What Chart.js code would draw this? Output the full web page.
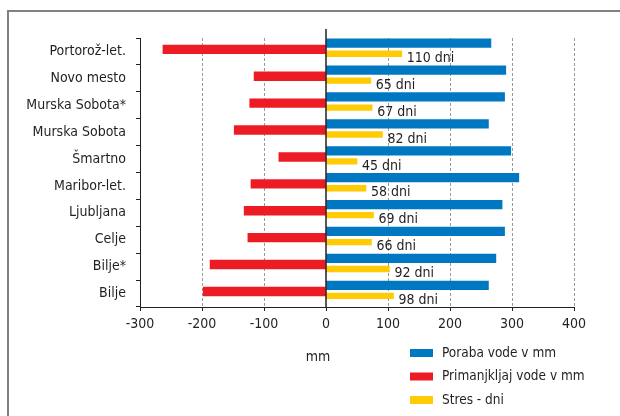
<!DOCTYPE html>
<html>
<head>
<meta charset="utf-8">
<script src="https://cdn.jsdelivr.net/npm/chart.js@4/dist/chart.umd.min.js"></script>
<style>
  html, body { margin: 0; padding: 0; background: #fff; }
  canvas { display: block; }
</style>
</head>
<body>
<canvas id="graf" width="620" height="416"></canvas>
<script>
// Meteorološke postaje (od zgoraj navzdol)
const postaje = ['Portorož-let.', 'Novo mesto', 'Murska Sobota*', 'Murska Sobota', 'Šmartno',
                 'Maribor-let.', 'Ljubljana', 'Celje', 'Bilje*', 'Bilje'];
// Poraba vode v mm
const porabaVode = [266, 290, 288, 262, 298, 311, 284, 288, 274, 262];
// Primanjkljaj vode v mm
const primanjkljajVode = [-263, -116, -123, -148, -76, -121, -132, -126, -187, -198];
// Število dni s stresom
const stresDni = [110, 65, 67, 82, 45, 58, 69, 66, 92, 98];
// Oznake osi x (mm)
const oznakeX = [-300, -200, -100, 0, 100, 200, 300, 400];
const imenaSerij = ['Poraba vode v mm', 'Primanjkljaj vode v mm', 'Stres - dni'];
const enotaOsi = 'mm';
const enotaStres = 'dni';

const MODRA = '#0077c1';
const RDECA = '#ed1c24';
const RUMENA = '#ffcb05';
const BESEDILO = '#231f20';
const MREZA = '#999999';
const PISAVA = "'DejaVu Sans Condensed', 'Liberation Sans', sans-serif";
const VELIKOST = 14;
const VELIKOST_LEGENDE = 13.5;

// Kategorijska os, pri kateri so stolpci niza zamaknjeni znotraj pasu postaje
// (zamik je delež višine pasu; negativen pomeni navzgor).
function zamaknjenaOs(id, zamik) {
  class ZamaknjenaOs extends Chart.CategoryScale {
    getPixelForValue(value, index) {
      const pas = Math.abs(super.getPixelForValue(1) - super.getPixelForValue(0));
      return super.getPixelForValue(value, index) + zamik * pas;
    }
  }
  ZamaknjenaOs.id = id;
  ZamaknjenaOs.defaults = Chart.CategoryScale.defaults;
  Chart.register(ZamaknjenaOs);
  return { type: id, axis: 'y', position: 'left', display: false, offset: true };
}

// okvir okrog slike
const okvir = {
  id: 'okvir',
  beforeDraw(chart) {
    const { ctx, width, height } = chart;
    ctx.save();
    ctx.fillStyle = '#fff';
    ctx.fillRect(0, 0, width, height);
    ctx.strokeStyle = '#808080';
    ctx.lineWidth = 2;
    ctx.beginPath();
    ctx.moveTo(8, height);
    ctx.lineTo(8, 11);
    ctx.lineTo(width, 11);
    ctx.stroke();
    ctx.restore();
  }
};

// ničelna črta in oznake dni ob rumenih stolpcih
const oznake = {
  id: 'oznake',
  afterDatasetsDraw(chart) {
    const { ctx, chartArea } = chart;
    const x0 = chart.scales.x.getPixelForValue(0);
    ctx.save();
    ctx.strokeStyle = BESEDILO;
    ctx.lineWidth = 1.5;
    ctx.beginPath();
    ctx.moveTo(x0, chartArea.top - 9);
    ctx.lineTo(x0, chartArea.bottom);
    ctx.stroke();

    ctx.font = VELIKOST + 'px ' + PISAVA;
    ctx.fillStyle = BESEDILO;
    ctx.textAlign = 'left';
    ctx.textBaseline = 'middle';
    chart.getDatasetMeta(2).data.forEach((bar, i) => {
      ctx.fillText(stresDni[i] + ' ' + enotaStres, bar.x + 5, bar.y + 4.5);
    });
    ctx.restore();
  }
};

// legenda in enota pod osjo
const legenda = {
  id: 'legenda',
  afterDraw(chart) {
    const { ctx } = chart;
    ctx.save();
    ctx.font = VELIKOST_LEGENDE + 'px ' + PISAVA;
    ctx.textBaseline = 'middle';
    chart.data.datasets.forEach((ds, i) => {
      const y = 353 + i * 23.5;
      ctx.fillStyle = ds.backgroundColor;
      ctx.fillRect(410, y - 4, 23, 8);
      ctx.fillStyle = BESEDILO;
      ctx.textAlign = 'left';
      ctx.fillText(ds.label, 442, y);
    });
    ctx.font = VELIKOST + 'px ' + PISAVA;
    ctx.textAlign = 'center';
    ctx.fillText(enotaOsi, 318, 357);
    ctx.restore();
  }
};

new Chart(document.getElementById('graf'), {
  type: 'bar',
  data: {
    labels: postaje,
    datasets: [
      {
        label: imenaSerij[0], data: porabaVode, backgroundColor: MODRA,
        xAxisID: 'x', yAxisID: 'yPoraba', barThickness: 8.6, grouped: false
      },
      {
        label: imenaSerij[1], data: primanjkljajVode, backgroundColor: RDECA,
        xAxisID: 'x', yAxisID: 'yPrimanjkljaj', barThickness: 8.7, grouped: false
      },
      {
        label: imenaSerij[2], data: stresDni, backgroundColor: RUMENA,
        xAxisID: 'x2', yAxisID: 'yStres', barThickness: 5.7, grouped: false
      }
    ]
  },
  options: {
    indexAxis: 'y',
    responsive: false,
    animation: false,
    devicePixelRatio: 1,
    layout: { padding: { top: 38, right: 46, left: 0, bottom: 0 } },
    plugins: { legend: { display: false }, tooltip: { enabled: false } },
    scales: {
      x: {
        type: 'linear', position: 'bottom', min: -300, max: 400,
        afterBuildTicks: (s) => { s.ticks = oznakeX.map(v => ({ value: v })); },
        afterFit: (s) => { s.height = 109; },
        ticks: { font: { family: PISAVA, size: VELIKOST }, color: BESEDILO, padding: 5, maxRotation: 0 },
        grid: {
          color: (c) => (c.tick && (c.tick.value === -300 || c.tick.value === 0)) ? 'rgba(0,0,0,0)' : MREZA,
          lineWidth: 1, tickLength: 4, tickColor: BESEDILO, tickWidth: 1
        },
        border: { display: true, color: BESEDILO, width: 1, dash: [3, 2] }
      },
      x2: { type: 'linear', axis: 'x', position: 'bottom', display: false, min: -270, max: 360 },
      y: {
        type: 'category', position: 'left', offset: true,
        afterFit: (s) => { s.width = 140; },
        ticks: { font: { family: PISAVA, size: VELIKOST }, color: BESEDILO, padding: 10 },
        grid: { offset: true, drawOnChartArea: false, tickLength: 4, tickColor: BESEDILO },
        border: { display: true, color: BESEDILO, width: 1 }
      },
      yPoraba: zamaknjenaOs('zamikPoraba', -0.307),
      yPrimanjkljaj: zamaknjenaOs('zamikPrimanjkljaj', -0.078),
      yStres: zamaknjenaOs('zamikStres', 0.087)
    }
  },
  plugins: [okvir, oznake, legenda]
});
</script>
</body>
</html>
